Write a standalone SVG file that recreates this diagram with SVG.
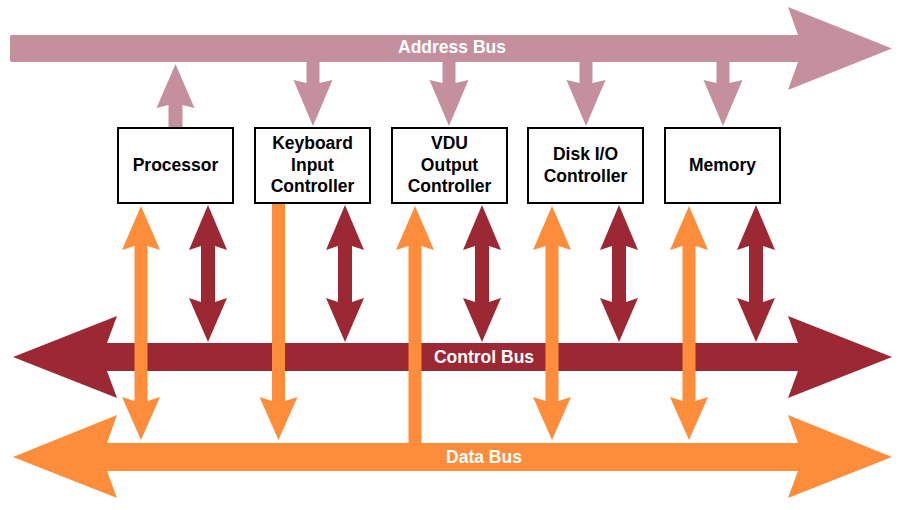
<svg xmlns="http://www.w3.org/2000/svg" width="904" height="510" viewBox="0 0 904 510">
<style>
.addr{fill:#C4909E}
.ctrl{fill:#9C2834}
.data{fill:#FD8D3A}
.box rect{fill:#fff;stroke:#000;stroke-width:2}
.box text{font-family:"Liberation Sans",Arial,sans-serif;font-weight:bold;font-size:17.5px;fill:#000;text-anchor:middle}
.bus{font-family:"Liberation Sans",Arial,sans-serif;font-weight:bold;font-size:17.5px;fill:#fff;text-anchor:middle}
</style>
<defs>
<path id="mdown" d="M-6.5,60 L6.5,60 L6.5,83 L19.5,80 L0,126 L-19.5,80 L-6.5,83 Z"/>
<path id="rdbl" d="M0,205 L19,250 L7,246 L7,302 L19,298 L0,342 L-19,298 L-7,302 L-7,246 L-19,250 Z"/>
<path id="odbl" d="M0,206 L19,250 L6.5,246 L6.5,401 L19,397 L0,440 L-19,397 L-6.5,401 L-6.5,246 L-19,250 Z"/>
</defs>
<g id="connectors">
<g id="address-bus">
<path class="addr" d="M12,35 L798,35 L788,7 L892,48.5 L788,90 L798,62 L12,62 Q10,62 10,60 L10,37 Q10,35 12,35 Z"/>
<path class="addr" transform="translate(175.5,0)" d="M0,64 L19,108 L7,105 L7,129 L-7,129 L-7,105 L-19,108 Z"/>
<use href="#mdown" class="addr" x="313"/>
<use href="#mdown" class="addr" x="449"/>
<use href="#mdown" class="addr" x="586"/>
<use href="#mdown" class="addr" x="723"/>
<text class="bus" x="452" y="53">Address Bus</text>
</g>
<g id="control-bus">
<use href="#rdbl" class="ctrl" x="208"/>
<use href="#rdbl" class="ctrl" x="345"/>
<use href="#rdbl" class="ctrl" x="482"/>
<use href="#rdbl" class="ctrl" x="619"/>
<use href="#rdbl" class="ctrl" x="756"/>
<path class="ctrl" d="M13,357 L117,316 L107,343 L798,343 L788,316 L892,357 L788,398 L798,371 L107,371 L117,398 Z"/>
<text class="bus" x="484" y="363">Control Bus</text>
</g>
<g id="data-bus">
<use href="#odbl" class="data" x="141"/>
<path class="data" transform="translate(278.5,0)" d="M-6.5,203 L6.5,203 L6.5,401 L19,397 L0,440 L-19,397 L-6.5,401 Z"/>
<path class="data" transform="translate(415,0)" d="M0,206 L19,250 L6.5,246 L6.5,445 L-6.5,445 L-6.5,246 L-19,250 Z"/>
<use href="#odbl" class="data" x="552"/>
<use href="#odbl" class="data" x="689"/>
<path class="data" d="M13,457 L117,415 L107,443 L798,443 L788,415 L892,457 L788,498 L798,471 L107,471 L117,498 Z"/>
<text class="bus" x="484" y="463">Data Bus</text>
</g>
</g>
<g id="processor" class="box"><rect x="118" y="128" width="115" height="75"/><text x="175.5" y="171">Processor</text></g>
<g id="keyboard" class="box"><rect x="255" y="128" width="115" height="75"/><text x="312.5" y="149">Keyboard</text><text x="312.5" y="171">Input</text><text x="312.5" y="192">Controller</text></g>
<g id="vdu" class="box"><rect x="392" y="128" width="115" height="75"/><text x="449.5" y="149">VDU</text><text x="449.5" y="171">Output</text><text x="449.5" y="192">Controller</text></g>
<g id="disk" class="box"><rect x="528" y="128" width="115" height="75"/><text x="585.5" y="160">Disk I/O</text><text x="585.5" y="182">Controller</text></g>
<g id="memory" class="box"><rect x="665" y="128" width="115" height="75"/><text x="722.5" y="171">Memory</text></g>
</svg>
